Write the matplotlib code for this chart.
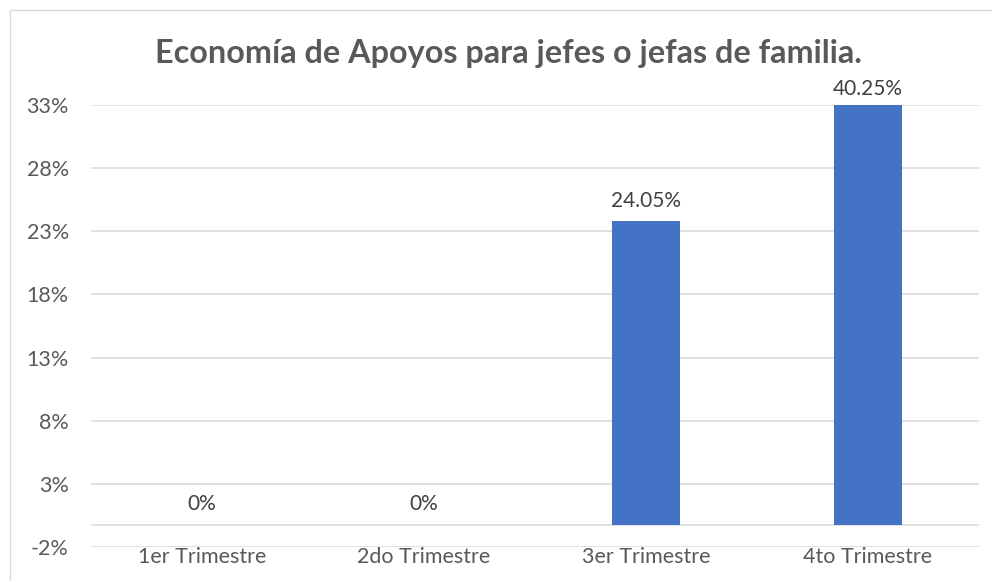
import matplotlib
matplotlib.use("Agg")
import matplotlib.pyplot as plt
from matplotlib.patches import Rectangle

categories = ["1er Trimestre", "2do Trimestre", "3er Trimestre", "4to Trimestre"]
values = [0.0, 0.0, 24.05, 40.25]
value_labels = ["0%", "0%", "24.05%", "40.25%"]
title = "Economía de Apoyos para jefes o jefas de familia."

axis_min = -1.75
axis_max = 33.25
major_unit = 5.0

plt.rcParams['font.family'] = ['Lato', 'DejaVu Sans']

fig = plt.figure(figsize=(9.92, 5.81), dpi=100)
fig.patch.set_facecolor('white')

# chart border (extends past the right/bottom edge as in the reference)
border = Rectangle((10/992, -0.05), 1.2, 1 - 10/581 + 0.05, transform=fig.transFigure,
                   fill=False, edgecolor='#d9d9d9', linewidth=1.0)
fig.add_artist(border)

ax = fig.add_axes([91/992, 1 - 547/581, (979 - 91)/992, (547 - 105)/581])

x = range(len(categories))
ax.bar(x, values, width=0.31, color='#4472C4', zorder=3)

ax.set_xlim(-0.5, len(categories) - 0.5)
ax.set_ylim(axis_min, axis_max)

ticks = []
t = axis_min
while t <= axis_max + 1e-9:
    ticks.append(t)
    t += major_unit
ax.set_yticks(ticks)
ax.set_yticklabels([f"{round(v):.0f}%" for v in ticks])
ax.yaxis.grid(True, color='#d9d9d9', linewidth=1.1, zorder=0)
ax.axhline(0, color='#d9d9d9', linewidth=1.1, zorder=1)
ax.set_axisbelow(True)

ax.set_xticks(list(x))
ax.set_xticklabels(categories)

for s in ax.spines.values():
    s.set_visible(False)
ax.tick_params(axis='both', length=0, colors='#595959', labelsize=15.5)
ax.tick_params(axis='y', pad=16)
ax.tick_params(axis='x', pad=0)

for i, (v, lab) in enumerate(zip(values, value_labels)):
    clipped = v > axis_max
    y = min(v, axis_max)
    ax.annotate(lab, (i, y), xytext=(0, 4 if clipped else 7.5), textcoords='offset points',
                ha='center', va='bottom', fontsize=15, color='#404040',
                annotation_clip=False)

fig.text(508/992, 1 - 54/581, title, ha='center', va='center', fontsize=23.3,
         fontweight='bold', color='#595959')

fig.savefig('out.png', dpi=100)
